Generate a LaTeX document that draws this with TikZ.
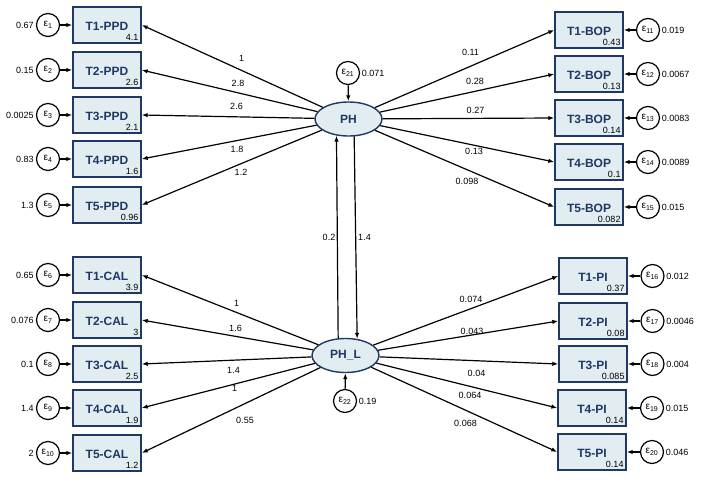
\documentclass[tikz,border=0pt]{standalone}
\usepackage{fontspec}
\setmainfont{Liberation Sans}
\usetikzlibrary{arrows.meta,shapes.geometric}

\definecolor{boxfill}{RGB}{226,237,241}
\definecolor{navy}{RGB}{31,56,100}

\newcommand\mkbox[5]{%
  \node[obs] (#1) at (#2,#3) {};
  \node[nm] (#1n) at ([yshift=-1pt]#1.center) {#4};
  \node[val, anchor=base east] (#1v) at ([xshift=-3pt,yshift=3pt]#1.south east) {#5};
}
\newcommand\mkerrL[5]{%
  \node[err] (#1) at (#2,#3) {ε\textsubscript{#4}};
  \node[val, anchor=east] (#1v) at ([xshift=-2pt]#1.west) {#5};
}
\newcommand\mkerrR[5]{%
  \node[err] (#1) at (#2,#3) {ε\textsubscript{#4}};
  \node[val, anchor=west] (#1v) at ([xshift=1.5pt]#1.east) {#5};
}

\begin{document}
\begin{tikzpicture}[x=1pt,y=-1pt,
  obs/.style={draw=navy, fill=boxfill, line width=1.4pt, minimum width=68pt, minimum height=36pt, inner sep=0pt},
  lat/.style={ellipse, draw=navy, fill=boxfill, line width=1.4pt, minimum width=67pt, minimum height=34pt, inner sep=0pt, font=\fontsize{12}{12}\selectfont\bfseries, text=navy},
  err/.style={circle, draw=black, fill=white, line width=1.2pt, minimum size=23pt, inner sep=0pt, font=\fontsize{10}{10}\selectfont},
  arr/.style={-{Latex[length=6pt,width=4.5pt]}, line width=1.2pt},
  val/.style={font=\fontsize{9}{9}\selectfont, inner sep=0pt},
  nm/.style={font=\fontsize{12}{12}\selectfont\bfseries, text=navy, inner sep=0pt},
]
\useasboundingbox[fill=white] (0,0) rectangle (701,482);

% latent variables
\node[lat] (PH) at (348.5,119) {PH};
\node[lat] (PHL) at (345.5,355.5) {PH\_L};
\mkerrR{e21}{348}{73}{21}{0.071}
\mkerrR{e22}{345}{401}{22}{0.19}
\draw[arr] (e21) -- (PH);
\draw[arr] (e22) -- (PHL);
\draw[arr] (PH.288.2) -- (PHL.55) node[val] at (364.5,237) {1.4};
\draw[arr] (PHL.113.7) -- (PH.234.2) node[val] at (329,237) {0.2};

% PPD
\mkbox{ppd1}{107}{25}{T1-PPD}{4.1}
\mkbox{ppd2}{107}{70}{T2-PPD}{2.6}
\mkbox{ppd3}{107}{115}{T3-PPD}{2.1}
\mkbox{ppd4}{107}{159}{T4-PPD}{1.6}
\mkbox{ppd5}{107}{205}{T5-PPD}{0.96}
\mkerrL{e1}{48}{25}{1}{0.67}
\mkerrL{e2}{48}{70}{2}{0.15}
\mkerrL{e3}{48}{115}{3}{0.0025}
\mkerrL{e4}{48}{159}{4}{0.83}
\mkerrL{e5}{48}{205}{5}{1.3}
\foreach \i in {1,...,5} {\draw[arr] (e\i) -- (ppd\i);}
\draw[arr] (PH) -- (ppd1.east) node[val] at (241.5,58) {1};
\draw[arr] (PH) -- (ppd2.east) node[val] at (238,83) {2.8};
\draw[arr] (PH) -- (ppd3.east) node[val] at (236.5,106) {2.6};
\draw[arr] (PH) -- (ppd4.east) node[val] at (237,149) {1.8};
\draw[arr] (PH) -- (ppd5.east) node[val] at (241,172) {1.2};

% BOP
\mkbox{bop1}{589}{30}{T1-BOP}{0.43}
\mkbox{bop2}{589}{74}{T2-BOP}{0.13}
\mkbox{bop3}{589}{118}{T3-BOP}{0.14}
\mkbox{bop4}{589}{162}{T4-BOP}{0.1\hspace{7pt}}
\mkbox{bop5}{589}{207}{T5-BOP}{0.082}
\mkerrR{e11}{648}{30}{11}{0.019}
\mkerrR{e12}{648}{74}{12}{0.0067}
\mkerrR{e13}{648}{118}{13}{0.0083}
\mkerrR{e14}{648}{162}{14}{0.0089}
\mkerrR{e15}{648}{207}{15}{0.015}
\draw[arr] (e11) -- (bop1);
\draw[arr] (e12) -- (bop2);
\draw[arr] (e13) -- (bop3);
\draw[arr] (e14) -- (bop4);
\draw[arr] (e15) -- (bop5);
\draw[arr] (PH) -- (bop1.west) node[val] at (470.5,52.5) {0.11};
\draw[arr] (PH) -- (bop2.west) node[val] at (475,81.5) {0.28};
\draw[arr] (PH) -- (bop3.west) node[val] at (475.5,110) {0.27};
\draw[arr] (PH) -- (bop4.west) node[val] at (474,151) {0.13};
\draw[arr] (PH) -- (bop5.west) node[val] at (467,181.5) {0.098};

% CAL
\mkbox{cal1}{107}{275}{T1-CAL}{3.9}
\mkbox{cal2}{107}{320}{T2-CAL}{3}
\mkbox{cal3}{107}{364}{T3-CAL}{2.5}
\mkbox{cal4}{107}{408}{T4-CAL}{1.9}
\mkbox{cal5}{107}{453}{T5-CAL}{1.2}
\mkerrL{e6}{48}{275}{6}{0.65}
\mkerrL{e7}{48}{320}{7}{0.076}
\mkerrL{e8}{48}{364}{8}{0.1}
\mkerrL{e9}{48}{408}{9}{1.4}
\mkerrL{e10}{48}{453}{10}{2}
\draw[arr] (e6) -- (cal1);
\draw[arr] (e7) -- (cal2);
\draw[arr] (e8) -- (cal3);
\draw[arr] (e9) -- (cal4);
\draw[arr] (e10) -- (cal5);
\draw[arr] (PHL) -- (cal1.east) node[val] at (236.5,303) {1};
\draw[arr] (PHL) -- (cal2.east) node[val] at (235.5,328) {1.6};
\draw[arr] (PHL) -- (cal3.east) node[val] at (233.5,370) {1.4};
\draw[arr] (PHL) -- (cal4.east) node[val] at (234.5,388) {1};
\draw[arr] (PHL) -- (cal5.east) node[val] at (245,420) {0.55};

% PI
\mkbox{pi1}{593}{276}{T1-PI}{0.37}
\mkbox{pi2}{593}{321}{T2-PI}{0.08}
\mkbox{pi3}{593}{364}{T3-PI}{0.085}
\mkbox{pi4}{592}{408}{T4-PI}{0.14}
\mkbox{pi5}{592}{452}{T5-PI}{0.14}
\mkerrR{e16}{652.5}{276}{16}{0.012}
\mkerrR{e17}{652.5}{321}{17}{0.0046}
\mkerrR{e18}{652.5}{364}{18}{0.004}
\mkerrR{e19}{652}{408}{19}{0.015}
\mkerrR{e20}{652}{452}{20}{0.046}
\draw[arr] (e16) -- (pi1);
\draw[arr] (e17) -- (pi2);
\draw[arr] (e18) -- (pi3);
\draw[arr] (e19) -- (pi4);
\draw[arr] (e20) -- (pi5);
\draw[arr] (PHL) -- (pi1.west) node[val] at (471,299) {0.074};
\draw[arr] (PHL) -- (pi2.west) node[val] at (472,331) {0.043};
\draw[arr] (PHL) -- (pi3.west) node[val] at (476.5,373) {0.04};
\draw[arr] (PHL) -- (pi4.west) node[val] at (470,395.5) {0.064};
\draw[arr] (PHL) -- (pi5.west) node[val] at (465.5,423) {0.068};
\end{tikzpicture}
\end{document}
